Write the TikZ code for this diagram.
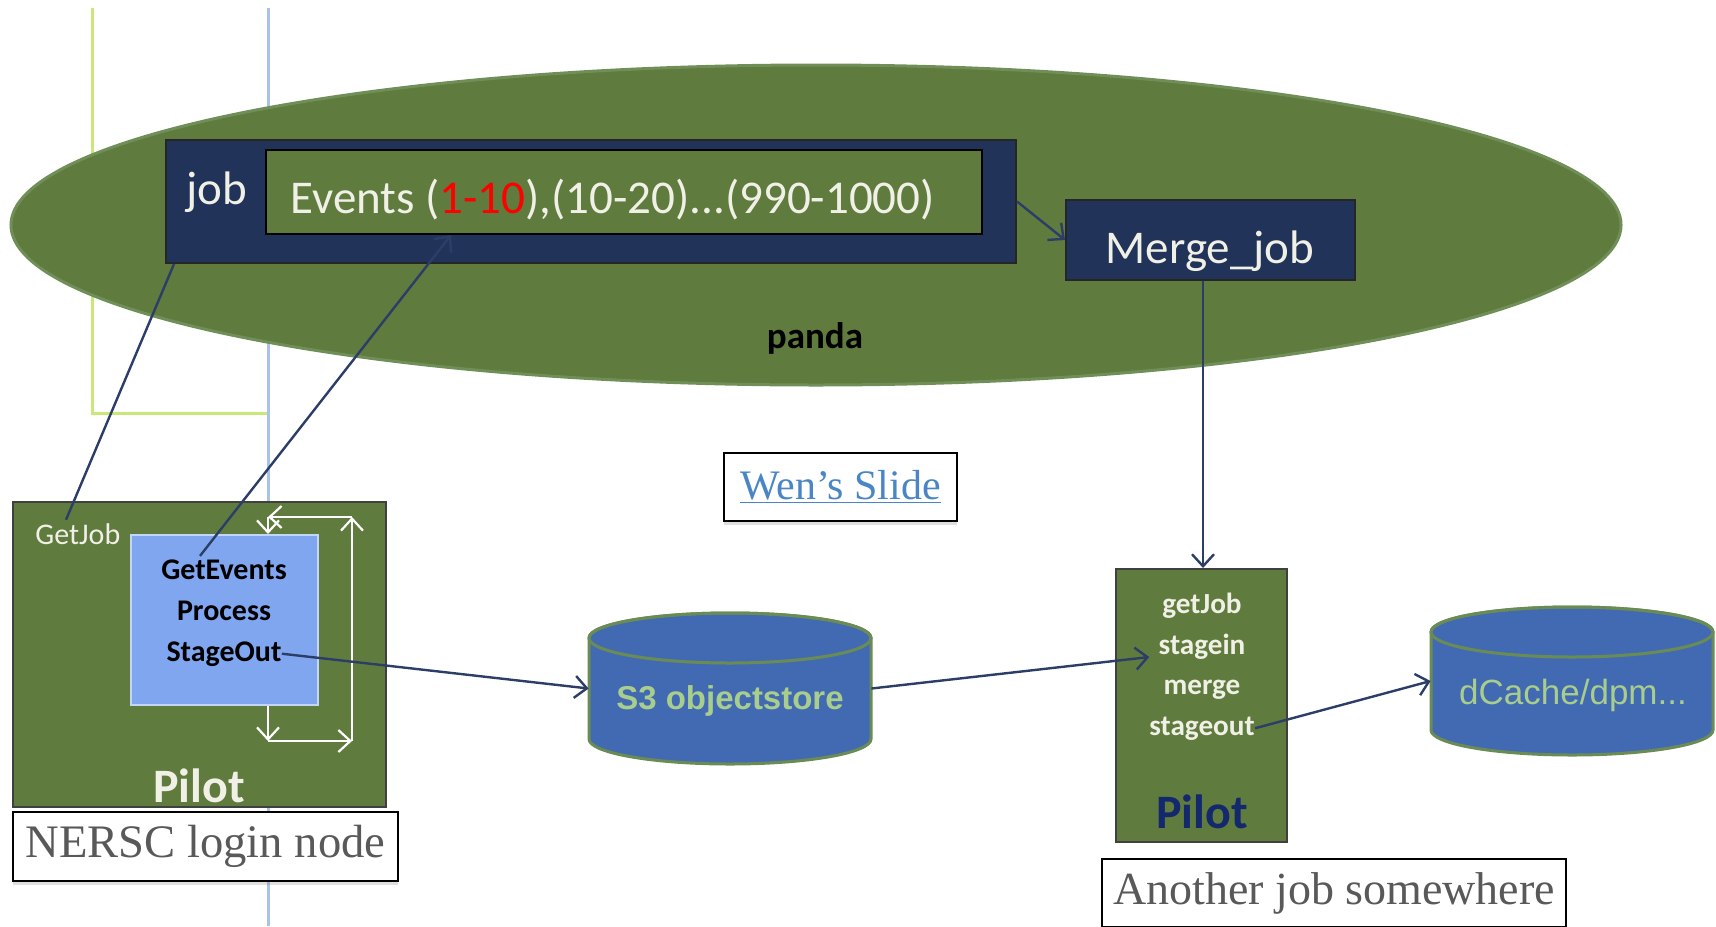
\documentclass[tikz,border=0pt]{standalone}
\usepackage{fontspec}
\usetikzlibrary{shapes.geometric,arrows.meta,calc,shadows}
\newfontfamily\calfont{Carlito}
\newfontfamily\arialfont{Liberation Sans}
\newfontfamily\serfont{Liberation Serif}
\definecolor{cGreen}{RGB}{95,123,61}
\definecolor{cEdge}{RGB}{112,142,88}
\definecolor{cNavy}{RGB}{33,51,89}
\definecolor{cText}{RGB}{240,240,230}
\definecolor{cBlue}{RGB}{128,166,240}
\definecolor{cBlueEdge}{RGB}{196,214,248}
\definecolor{cCyl}{RGB}{66,106,178}
\definecolor{cCylEdge}{RGB}{106,140,84}
\definecolor{cCylText}{RGB}{168,205,140}
\definecolor{cLine}{RGB}{44,62,104}
\definecolor{cYG}{RGB}{200,232,120}
\definecolor{cVBlue}{RGB}{168,194,232}
\definecolor{cLink}{RGB}{74,134,197}
\definecolor{cGrey}{RGB}{89,89,89}
\definecolor{cPNavy}{RGB}{20,40,110}
\begin{document}
\begin{tikzpicture}[x=0.5pt,y=-0.5pt,
  conn/.style={draw=cLine,line width=1.2pt,-{Straight Barb[length=6pt,width=11pt,line width=1.2pt]}},
  plainconn/.style={draw=cLine,line width=1.2pt},
  loopar/.style={draw=white,line width=1.1pt,-{Straight Barb[length=6pt,width=11pt,line width=1.1pt]}},
  labelbox/.style={draw=black,fill=white,line width=0.6pt,inner sep=0,
    drop shadow={shadow xshift=0pt,shadow yshift=-2pt,opacity=0.25}},
  boxtxt/.style={inner sep=0,text=cText,font=\calfont\fontsize{23.5}{28}\selectfont},
  smallb/.style={inner sep=0,font=\calfont\bfseries\fontsize{15}{18}\selectfont},
  ptxt/.style={inner sep=0,text=cText,font=\calfont\bfseries\fontsize{14.6}{18}\selectfont,anchor=base},
]
\useasboundingbox (0,0) rectangle (1716,926);

% background guide lines
\draw[cYG,line width=1.5pt] (92,8) -- (92,413) -- (268,413);
\draw[cVBlue,line width=1.5pt] (268,8) -- (268,926);

% panda ellipse
\node[ellipse,fill=cGreen,draw=cEdge,line width=1.5pt,minimum width=805pt,minimum height=160pt,inner sep=0] (panda) at (816,225) {};
\node[anchor=base,inner sep=0,font=\calfont\bfseries\fontsize{18.5}{22}\selectfont] (pandatxt) at (815,348) {panda};

% job box
\node[rectangle,fill=cNavy,draw=black!85,line width=1pt,minimum width=425pt,minimum height=61.5pt,inner sep=0] (job) at (591,201.5) {};
\node[rectangle,fill=cGreen,draw=black,line width=1pt,minimum width=358pt,minimum height=42pt,inner sep=0] (events) at (624,192) {};
\node[boxtxt,anchor=base west] (jobtxt) at (186,204) {job};
\node[boxtxt,anchor=base west] (evtxt) at (290,213) {Events (\textcolor{red}{1-10}),(10-20)...(990-1000)};

% merge job
\node[rectangle,fill=cNavy,draw=black!85,line width=1pt,minimum width=144.5pt,minimum height=40pt,inner sep=0] (merge) at (1210.5,240) {};
\node[boxtxt,anchor=base] (mergetxt) at (1210,263) {Merge\_job};

% Pilot 1
\node[rectangle,fill=cGreen,draw=black!75,line width=1pt,minimum width=186.5pt,minimum height=152.5pt,inner sep=0] (pilot1) at (199.5,654.5) {};
\node[rectangle,fill=cBlue,draw=cBlueEdge,line width=1pt,minimum width=93.5pt,minimum height=85pt,inner sep=0] (blue) at (224.5,620) {};
\node[anchor=base west,inner sep=0,text=cText,font=\calfont\fontsize{15}{18}\selectfont] (getjob) at (35,544) {GetJob};
\node[smallb,anchor=base] (ge) at (224,579) {GetEvents};
\node[smallb,anchor=base] (pr) at (224,620) {Process};
\node[smallb,anchor=base] (so) at (224,661) {StageOut};
\node[anchor=base,inner sep=0,text=cText,font=\calfont\bfseries\fontsize{24}{28}\selectfont] (p1txt) at (199,802) {Pilot};

% loop arrows
\coordinate (lt) at (268,517);
\coordinate (rt) at (352,517);
\coordinate (rb) at (352,741);
\coordinate (lb) at (268,741);
\draw[loopar] (rt) -- (lt);
\draw[loopar] (lt) -- (blue.north -| lt);
\draw[loopar] (blue.south -| lb) -- (lb);
\draw[loopar] (lb) -- (rb);
\draw[loopar] (rb) -- (rt);

% S3 cylinder
\node[minimum width=141pt,minimum height=75.5pt,inner sep=0] (s3) at (730,688.5) {};
\filldraw[fill=cCyl,draw=cCylEdge,line width=1.5pt] (589,638) -- (589,739) arc[start angle=180,end angle=360,x radius=70.5pt,y radius=12.5pt] -- (871,638) arc[start angle=0,end angle=180,x radius=70.5pt,y radius=12.5pt] -- cycle;
\draw[cCylEdge,line width=1.5pt] (730,638) ellipse[x radius=70.5pt,y radius=12.5pt];
\node[inner sep=0,text=cCylText,font=\arialfont\bfseries\fontsize{16.5}{20}\selectfont] (s3txt) at (730,701) {S3 objectstore};

% dCache cylinder
\node[minimum width=141pt,minimum height=74pt,inner sep=0] (dc) at (1572,681) {};
\filldraw[fill=cCyl,draw=cCylEdge,line width=1.5pt] (1431,632) -- (1431,730) arc[start angle=180,end angle=360,x radius=70.5pt,y radius=12.5pt] -- (1713,632) arc[start angle=0,end angle=180,x radius=70.5pt,y radius=12.5pt] -- cycle;
\draw[cCylEdge,line width=1.5pt] (1572,632) ellipse[x radius=70.5pt,y radius=12.5pt];
\node[inner sep=0,text=cCylText,font=\arialfont\fontsize{17.5}{20}\selectfont] (dctxt) at (1573,695) {dCache/dpm...};

% Pilot 2
\node[rectangle,fill=cGreen,draw=black!75,line width=1pt,minimum width=85.5pt,minimum height=136.5pt,inner sep=0] (pilot2) at (1201.5,705.5) {};
\node[ptxt] (gj2) at (1202,613) {getJob};
\node[ptxt] (si) at (1202,654) {stagein};
\node[ptxt] (mg) at (1202,694) {merge};
\node[ptxt] (so2) at (1202,735) {stageout};
\node[anchor=base,inner sep=0,text=cPNavy,font=\calfont\bfseries\fontsize{24}{28}\selectfont] (p2txt) at (1202,828) {Pilot};

% connectors
\draw[conn] (job.east) -- (merge.west);
\draw[conn] (merge.south -| 1203,0) -- (pilot2.north -| 1203,0);
\draw[plainconn] ($(getjob.north west)+(31,-3)$) -- ($(job.south west)+(9,0)$);
\draw[conn] ($(ge.north)+(-24,-3)$) -- ($(events.south west)+(186,0)$);
\draw[conn] (so.east) -- (s3.west);
\draw[conn] (s3.east) -- ($(si.base west)+(-9,3)$);
\draw[conn] (so2.east) -- (dc.west);

% label boxes
\node[labelbox,minimum width=116.5pt,minimum height=34pt,text=cLink,font=\serfont\fontsize{21}{24}\selectfont] (wen) at (840.5,487) {\underline{Wen’s Slide}};
\node[labelbox,minimum width=192.5pt,minimum height=34.5pt,text=cGrey,font=\serfont\fontsize{23.3}{26}\selectfont] (nersc) at (205.5,846.5) {NERSC login node};
\node[labelbox,minimum width=232pt,minimum height=34pt,text=cGrey,font=\serfont\fontsize{23}{26}\selectfont] (another) at (1334,893) {Another job somewhere};
\end{tikzpicture}
\end{document}
